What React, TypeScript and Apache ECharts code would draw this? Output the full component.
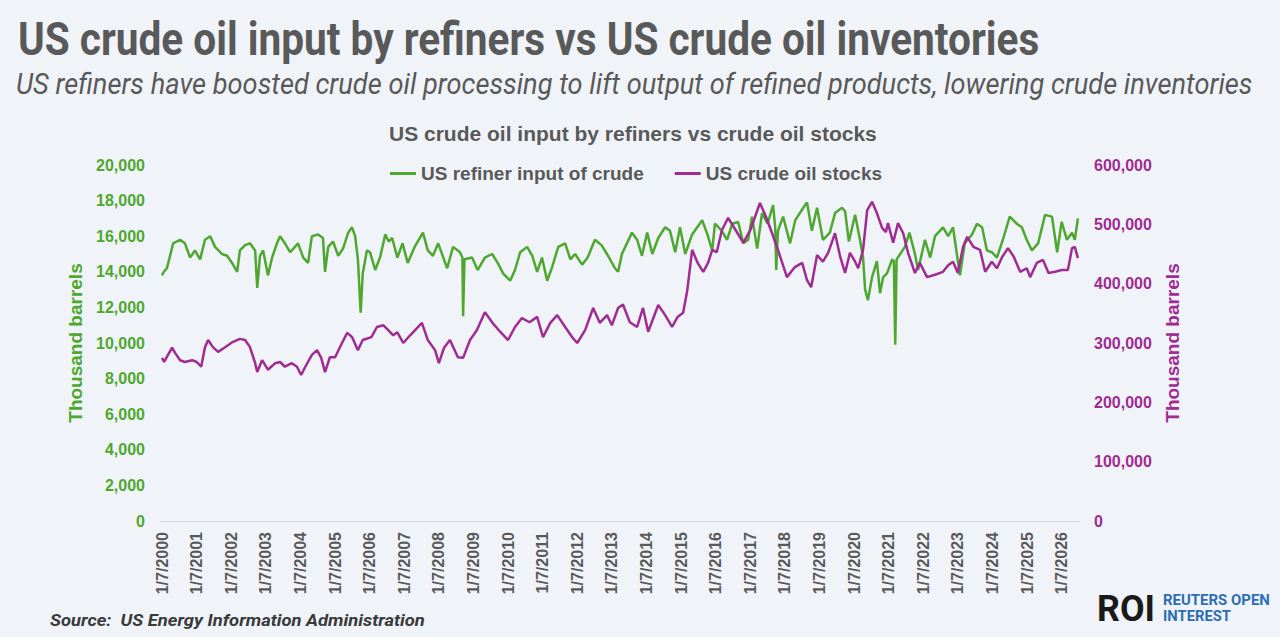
import React, { useEffect, useRef } from "react";
import * as echarts from "echarts";

// ---------- DATA ----------
// x values are decimal years, 2000.00 = 1/7/2000
const refinerDates = [
  2000.0, 2000.05, 2000.14, 2000.32, 2000.52, 2000.66, 2000.81, 2000.95, 2001.1, 2001.24, 2001.39, 2001.53, 2001.73,
  2001.88, 2002.02, 2002.17, 2002.25, 2002.4, 2002.54, 2002.69, 2002.75, 2002.83, 2002.92, 2003.06, 2003.18, 2003.32,
  2003.41, 2003.55, 2003.7, 2003.84, 2003.93, 2004.08, 2004.22, 2004.33, 2004.51, 2004.65, 2004.71, 2004.8, 2004.94,
  2005.09, 2005.23, 2005.38, 2005.49, 2005.58, 2005.66, 2005.74, 2005.8, 2005.92, 2006.01, 2006.16, 2006.3, 2006.45,
  2006.55, 2006.65, 2006.8, 2006.95, 2007.1, 2007.3, 2007.54, 2007.68, 2007.83, 2007.98, 2008.24, 2008.41, 2008.61,
  2008.68, 2008.7, 2008.74, 2008.96, 2009.12, 2009.33, 2009.54, 2009.7, 2009.86, 2010.06, 2010.2, 2010.35, 2010.55,
  2010.7, 2010.84, 2010.98, 2011.13, 2011.28, 2011.45, 2011.65, 2011.8, 2011.94, 2012.14, 2012.3, 2012.51, 2012.7,
  2012.89, 2013.09, 2013.18, 2013.29, 2013.58, 2013.73, 2013.87, 2014.02, 2014.17, 2014.34, 2014.54, 2014.68, 2014.83,
  2014.97, 2015.12, 2015.32, 2015.61, 2015.76, 2015.9, 2015.98, 2016.18, 2016.33, 2016.48, 2016.65, 2016.8, 2016.94,
  2017.05, 2017.2, 2017.34, 2017.5, 2017.66, 2017.72, 2017.75, 2017.8, 2017.95, 2018.15, 2018.3, 2018.5, 2018.64,
  2018.78, 2018.93, 2019.1, 2019.3, 2019.45, 2019.65, 2019.74, 2019.85, 2020.03, 2020.17, 2020.26, 2020.32, 2020.4,
  2020.52, 2020.66, 2020.75, 2020.84, 2020.95, 2021.1, 2021.15, 2021.19, 2021.23, 2021.47, 2021.6, 2021.76, 2021.85,
  2022.05, 2022.2, 2022.34, 2022.57, 2022.72, 2022.86, 2023.06, 2023.2, 2023.41, 2023.55, 2023.7, 2023.84, 2023.98,
  2024.13, 2024.3, 2024.5, 2024.7, 2024.85, 2024.99, 2025.14, 2025.32, 2025.52, 2025.72, 2025.87, 2026.0, 2026.15,
  2026.3, 2026.38, 2026.47,
];
const refinerInput = [
  13800, 14000, 14200, 15600, 15800, 15600, 14800, 15200, 14700, 15800, 16000, 15400, 15000,
  14900, 14500, 14000, 15200, 15500, 15600, 15200, 13100, 14900, 15200, 13800, 14800, 15600,
  16000, 15600, 15100, 15400, 15600, 14800, 14500, 16000, 16100, 15900, 14000, 15400, 15700,
  14900, 15300, 16200, 16500, 16000, 14700, 11700, 13900, 15200, 15100, 14100, 14800, 16100,
  15700, 15900, 14800, 15600, 14500, 15400, 16200, 15200, 14900, 15600, 14200, 15400, 15100,
  14800, 11500, 14700, 14800, 14100, 14800, 15000, 14500, 13900, 13500, 14100, 15100, 15400,
  14900, 14000, 14800, 13500, 14300, 15400, 15600, 14700, 15000, 14400, 14800, 15800, 15500,
  14900, 14200, 14000, 15000, 16200, 15800, 14900, 16200, 15000, 15900, 16500, 16300, 15100,
  16500, 15000, 16100, 16900, 16100, 15200, 16700, 16300, 15800, 16700, 16800, 15600, 15800,
  17100, 15300, 17300, 16700, 17750, 16500, 14100, 16300, 17100, 15600, 16900, 17500, 17900,
  16300, 17600, 15800, 16200, 17300, 17600, 17400, 15700, 17200, 15800, 14800, 13000, 12400,
  13700, 14600, 12800, 13700, 13900, 14700, 14600, 9900, 14700, 15400, 16200, 15000, 14100,
  15800, 14800, 16000, 16500, 16000, 16500, 13800, 15600, 16100, 16700, 16500, 15200, 15100,
  14800, 15800, 17100, 16700, 16500, 15800, 15200, 15600, 17200, 17100, 15100, 16800, 15800,
  16200, 15800, 17000,
];

const stockDates = [
  2000.0, 2000.06, 2000.17, 2000.29, 2000.38, 2000.52, 2000.66, 2000.87, 2001.0, 2001.13, 2001.24, 2001.33, 2001.47,
  2001.62, 2001.8, 2002.05, 2002.25, 2002.4, 2002.54, 2002.69, 2002.75, 2002.89, 2003.06, 2003.27, 2003.41, 2003.55,
  2003.75, 2003.9, 2004.02, 2004.14, 2004.33, 2004.48, 2004.6, 2004.71, 2004.85, 2005.0, 2005.2, 2005.35, 2005.49,
  2005.66, 2005.8, 2006.05, 2006.21, 2006.39, 2006.53, 2006.68, 2006.8, 2006.97, 2007.17, 2007.51, 2007.68, 2007.89,
  2008.0, 2008.15, 2008.32, 2008.55, 2008.7, 2008.9, 2009.1, 2009.33, 2009.55, 2009.77, 2010.0, 2010.2, 2010.4,
  2010.62, 2010.84, 2011.01, 2011.22, 2011.42, 2011.65, 2011.85, 2012.0, 2012.23, 2012.46, 2012.65, 2012.86, 2013.0,
  2013.18, 2013.32, 2013.52, 2013.73, 2013.9, 2014.05, 2014.34, 2014.54, 2014.74, 2014.9, 2015.06, 2015.18, 2015.32,
  2015.48, 2015.64, 2015.78, 2015.9, 2016.03, 2016.18, 2016.36, 2016.58, 2016.8, 2017.0, 2017.28, 2017.46, 2017.63,
  2017.8, 2018.06, 2018.29, 2018.5, 2018.64, 2018.76, 2018.93, 2019.1, 2019.25, 2019.45, 2019.6, 2019.74, 2019.88,
  2020.03, 2020.12, 2020.26, 2020.38, 2020.52, 2020.66, 2020.81, 2020.92, 2020.98, 2021.13, 2021.27, 2021.42, 2021.56,
  2021.76, 2021.9, 2022.11, 2022.34, 2022.57, 2022.72, 2022.86, 2023.0, 2023.15, 2023.27, 2023.45, 2023.64, 2023.79,
  2023.98, 2024.13, 2024.28, 2024.45, 2024.62, 2024.8, 2024.99, 2025.09, 2025.28, 2025.46, 2025.62, 2025.81, 2026.0,
  2026.18, 2026.3, 2026.38, 2026.47,
];
const crudeStocks = [
  275000, 268000, 280000, 292000, 283000, 271000, 268000, 271000, 268000, 260000, 293000, 305000, 293000,
  285000, 292000, 302000, 307000, 305000, 293000, 266000, 251000, 271000, 255000, 266000, 268000, 260000,
  266000, 260000, 246000, 260000, 280000, 288000, 275000, 251000, 276000, 276000, 300000, 317000, 310000,
  288000, 305000, 310000, 327000, 330000, 322000, 313000, 318000, 300000, 313000, 334000, 305000, 288000,
  266000, 292000, 305000, 276000, 275000, 305000, 322000, 352000, 334000, 319000, 305000, 327000, 342000,
  335000, 344000, 310000, 334000, 347000, 327000, 310000, 300000, 322000, 359000, 334000, 347000, 330000,
  359000, 365000, 335000, 327000, 359000, 319000, 364000, 347000, 327000, 344000, 351000, 389000, 457000,
  435000, 420000, 435000, 457000, 453000, 490000, 511000, 490000, 469000, 490000, 536000, 512000, 485000,
  457000, 411000, 428000, 435000, 406000, 394000, 448000, 437000, 452000, 485000, 445000, 418000, 452000,
  437000, 426000, 457000, 524000, 538000, 519000, 494000, 487000, 502000, 469000, 502000, 485000, 452000,
  418000, 435000, 411000, 415000, 420000, 431000, 437000, 418000, 462000, 479000, 462000, 457000, 420000,
  437000, 426000, 445000, 460000, 445000, 420000, 426000, 411000, 435000, 440000, 418000, 420000, 423000,
  423000, 460000, 462000, 443000,
];

const xTickYears = [
  2000, 2001, 2002, 2003, 2004, 2005, 2006, 2007, 2008, 2009, 2010, 2011, 2012, 2013,
  2014, 2015, 2016, 2017, 2018, 2019, 2020, 2021, 2022, 2023, 2024, 2025, 2026,
];

const seriesNames = ["US refiner input of crude", "US crude oil stocks"];
const mainTitle = "US crude oil input by refiners vs US crude oil inventories";
const subTitle =
  "US refiners have boosted crude oil processing to lift output of refined products, lowering crude inventories";
const chartTitle = "US crude oil input by refiners vs crude oil stocks";
const axisName = "Thousand barrels";
const sourceText = "Source:  US Energy Information Administration";

// ---------- STYLE ----------
const BG = "#f0f4f9";
const GREEN = "#4ea72e";
const PURPLE = "#a02b93";
const GREY = "#595959";
const FONT = "Liberation Sans";

let measureCtx: CanvasRenderingContext2D | null = null;
function fitScale(text: string, font: string, target: number): number {
  if (!measureCtx) measureCtx = document.createElement("canvas").getContext("2d");
  if (!measureCtx) return 1;
  measureCtx.font = font;
  const w = measureCtx.measureText(text).width;
  return w > 0 ? target / w : 1;
}

const fmt = (v: number) => Math.round(v).toLocaleString("en-US");

export default function App() {
  const ref = useRef<HTMLDivElement>(null);

  useEffect(() => {
    if (!ref.current) return;
    const chart = echarts.init(ref.current, null, { renderer: "svg" });

    const refinerData = refinerDates.map((d, i) => [d, refinerInput[i]]);
    const stockData = stockDates.map((d, i) => [d, crudeStocks[i]]);

    const titleSx = fitScale(mainTitle, "bold 46px Roboto", 1022);
    const subSx = fitScale(subTitle, "italic 30px Roboto", 1237);
    const srcSx = fitScale(sourceText, "italic bold 17px Roboto", 375);
    const roiSx = fitScale("ROI", "bold 36px Roboto", 58);
    const r1Sx = fitScale("REUTERS OPEN", "bold 15px Roboto", 107);
    const r2Sx = fitScale("INTEREST", "bold 15px Roboto", 68);

    const option: any = {
      animation: false,
      backgroundColor: BG,
      textStyle: { fontFamily: FONT },
      title: {
        text: chartTitle,
        left: 389,
        top: 123,
        padding: 0,
        textStyle: { fontFamily: FONT, fontSize: 21, fontWeight: "bold", color: GREY },
      },
      legend: {
        left: 390,
        top: 164,
        padding: 0,
        icon: "rect",
        itemWidth: 26,
        itemHeight: 3,
        itemGap: 31,
        textStyle: { fontFamily: FONT, fontSize: 19, fontWeight: "bold", color: GREY },
        data: seriesNames,
      },
      grid: { left: 160, right: 200, top: 165, bottom: 116, containLabel: false },
      xAxis: {
        type: "value",
        min: 1999.94,
        max: 2026.53,
        axisLine: { show: true, lineStyle: { color: "#d9d9d9", width: 1 } },
        axisTick: { show: false },
        splitLine: { show: false },
        axisLabel: {
          customValues: xTickYears,
          rotate: 90,
          margin: 11,
          fontFamily: FONT,
          fontSize: 16,
          fontWeight: "bold",
          color: GREY,
          formatter: (v: number) => `1/7/${Math.round(v)}`,
        },
      },
      yAxis: [
        {
          type: "value",
          position: "left",
          min: 0,
          max: 20000,
          interval: 2000,
          axisLine: { show: false },
          axisTick: { show: false },
          splitLine: { show: false },
          axisLabel: {
            margin: 15,
            fontFamily: FONT,
            fontSize: 16,
            fontWeight: "bold",
            color: GREEN,
            formatter: fmt,
          },
          name: axisName,
          nameLocation: "middle",
          nameRotate: 90,
          nameGap: 68,
          nameTextStyle: { fontFamily: FONT, fontSize: 19, fontWeight: "bold", color: GREEN },
        },
        {
          type: "value",
          position: "right",
          min: 0,
          max: 600000,
          interval: 100000,
          axisLine: { show: false },
          axisTick: { show: false },
          splitLine: { show: false },
          axisLabel: {
            margin: 14,
            fontFamily: FONT,
            fontSize: 16,
            fontWeight: "bold",
            color: PURPLE,
            formatter: fmt,
          },
          name: axisName,
          nameLocation: "middle",
          nameRotate: 90,
          nameGap: 78,
          nameTextStyle: { fontFamily: FONT, fontSize: 19, fontWeight: "bold", color: PURPLE },
        },
      ],
      series: [
        {
          name: seriesNames[0],
          type: "line",
          yAxisIndex: 0,
          data: refinerData,
          symbol: "none",
          showSymbol: false,
          color: GREEN,
          lineStyle: { color: GREEN, width: 2.5 },
          z: 2,
        },
        {
          name: seriesNames[1],
          type: "line",
          yAxisIndex: 1,
          data: stockData,
          symbol: "none",
          showSymbol: false,
          color: PURPLE,
          lineStyle: { color: PURPLE, width: 2.5 },
          z: 3,
        },
      ],
      graphic: [
        {
          type: "text",
          x: 18,
          y: 40,
          scaleX: titleSx,
          style: {
            text: mainTitle,
            fontFamily: "Roboto",
            fontSize: 46,
            fontWeight: "bold",
            fill: GREY,
            verticalAlign: "middle",
          },
        },
        {
          type: "text",
          x: 16,
          y: 84,
          scaleX: subSx,
          style: {
            text: subTitle,
            fontFamily: "Roboto",
            fontSize: 30,
            fontStyle: "italic",
            fill: GREY,
            verticalAlign: "middle",
          },
        },
        {
          type: "text",
          x: 50,
          y: 620,
          scaleX: srcSx,
          style: {
            text: sourceText,
            fontFamily: "Roboto",
            fontSize: 17,
            fontStyle: "italic",
            fontWeight: "bold",
            fill: "#3a3a3a",
            verticalAlign: "middle",
          },
        },
        {
          type: "text",
          x: 1097,
          y: 609,
          scaleX: roiSx,
          style: {
            text: "ROI",
            fontFamily: "Roboto",
            fontSize: 36,
            fontWeight: "bold",
            fill: "#1a1a1a",
            verticalAlign: "middle",
          },
        },
        {
          type: "text",
          x: 1163,
          y: 600,
          scaleX: r1Sx,
          style: {
            text: "REUTERS OPEN",
            fontFamily: "Roboto",
            fontSize: 15,
            fontWeight: "bold",
            fill: "#2d6db5",
            verticalAlign: "middle",
          },
        },
        {
          type: "text",
          x: 1163,
          y: 616,
          scaleX: r2Sx,
          style: {
            text: "INTEREST",
            fontFamily: "Roboto",
            fontSize: 15,
            fontWeight: "bold",
            fill: "#2d6db5",
            verticalAlign: "middle",
          },
        },
      ],
    };

    chart.setOption(option);
    return () => chart.dispose();
  }, []);

  return (
    <div
      ref={ref}
      style={{ position: "absolute", left: 0, top: 0, width: 1280, height: 637, background: BG }}
    />
  );
}
